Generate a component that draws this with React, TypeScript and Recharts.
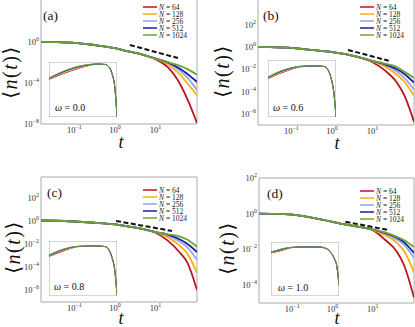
import { LineChart, Line, XAxis, YAxis, ReferenceArea } from 'recharts'

const SERIF = '"Liberation Serif", "DejaVu Serif", serif'
const FRAME = '#aaaaaa'

const sizes = [64, 128, 256, 512, 1024]
const colors = ['#bb1420', '#ffb000', '#8ea7ef', '#1d1da3', '#6ca535']

// main plots: <n(t)> vs t
const tValues = [0.015, 0.03, 0.1, 0.3, 1, 2, 5, 10, 20, 40, 60, 105]
const xDomain = [0.015, 105]
const xTicks = [0.1, 1, 10]

// order: N = 64, 128, 256, 512, 1024
const curvesA = [
  [1.05, 1.0, 0.85, 0.52, 0.25, 0.13, 0.056, 0.021, 3.5e-3, 8e-5, 3e-6, 1.26e-8],
  [1.05, 1.0, 0.85, 0.52, 0.25, 0.13, 0.056, 0.0235, 7e-3, 6.8e-4, 1e-4, 6.3e-6],
  [1.05, 1.0, 0.85, 0.52, 0.25, 0.13, 0.056, 0.024, 9.5e-3, 1.6e-3, 3.5e-4, 2e-5],
  [1.05, 1.0, 0.85, 0.52, 0.25, 0.13, 0.056, 0.024, 0.0105, 2.5e-3, 8e-4, 1.26e-4],
  [1.05, 1.0, 0.85, 0.52, 0.25, 0.13, 0.056, 0.024, 0.011, 4.7e-3, 2.4e-3, 6.3e-4],
]
const curvesB = [
  [1.0, 0.98, 0.83, 0.54, 0.35, 0.24, 0.11, 0.042, 7.9e-3, 6.3e-4, 5e-5, 2e-7],
  [1.0, 0.98, 0.83, 0.54, 0.35, 0.24, 0.11, 0.05, 0.018, 3.2e-3, 8e-4, 4.5e-5],
  [1.0, 0.98, 0.83, 0.54, 0.35, 0.24, 0.11, 0.055, 0.025, 6.3e-3, 1.8e-3, 1.5e-4],
  [1.0, 0.98, 0.83, 0.54, 0.35, 0.24, 0.11, 0.056, 0.028, 0.01, 4e-3, 6.3e-4],
  [1.0, 0.98, 0.83, 0.54, 0.35, 0.24, 0.11, 0.056, 0.032, 0.016, 6.3e-3, 1.7e-3],
]
const curvesC = [
  [1.1, 1.05, 0.9, 0.7, 0.5, 0.35, 0.2, 0.095, 0.02, 1.8e-3, 2.8e-4, 1.1e-6],
  [1.1, 1.05, 0.9, 0.7, 0.5, 0.35, 0.2, 0.107, 0.04, 7e-3, 1.6e-3, 3.2e-5],
  [1.1, 1.05, 0.9, 0.7, 0.5, 0.35, 0.2, 0.11, 0.056, 0.016, 5.6e-3, 4.4e-4],
  [1.1, 1.05, 0.9, 0.7, 0.5, 0.35, 0.2, 0.11, 0.066, 0.025, 0.011, 2.1e-3],
  [1.1, 1.05, 0.9, 0.7, 0.5, 0.35, 0.2, 0.11, 0.071, 0.045, 0.025, 5.8e-3],
]
const curvesD = [
  [1.0, 0.98, 0.9, 0.6, 0.35, 0.25, 0.18, 0.12, 0.035, 7.2e-3, 1.26e-3, 2e-5],
  [1.0, 0.98, 0.9, 0.6, 0.35, 0.25, 0.18, 0.125, 0.063, 0.023, 7.9e-3, 5.4e-4],
  [1.0, 0.98, 0.9, 0.6, 0.35, 0.25, 0.18, 0.13, 0.079, 0.035, 0.018, 3.3e-3],
  [1.0, 0.98, 0.9, 0.6, 0.35, 0.25, 0.18, 0.13, 0.085, 0.045, 0.025, 6.3e-3],
  [1.0, 0.98, 0.9, 0.6, 0.35, 0.25, 0.18, 0.13, 0.089, 0.05, 0.033, 0.0138],
]

// dashed guide lines (two end points each)
const guideTA = [2.34, 35.5]
const guideNA = [0.51, 0.0275]
const guideTB = [2.48, 25]
const guideNB = [0.54, 0.058]
const guideTC = [1.06, 25.4]
const guideNC = [1.0, 0.138]
const guideTD = [2.09, 22.6]
const guideND = [0.355, 0.126]

// insets
const uValues = [0.001, 0.00316, 0.01, 0.0316, 0.1, 0.25, 0.63, 1.0, 1.41, 2.0, 2.51]
const insetX = [0.001, 2.51]
const insetY = [1e-6, 1]

const insetA = [
  [0.0126, 0.035, 0.091, 0.21, 0.41, 0.59, 0.54, 0.28, 0.05, 1.2e-3, 1.5e-6],
  [0.0138, 0.04, 0.107, 0.24, 0.44, 0.59, 0.54, 0.28, 0.052, 1.4e-3, 1.2e-6],
  [0.015, 0.047, 0.126, 0.275, 0.47, 0.59, 0.54, 0.28, 0.054, 1.1e-3, 1e-6],
  [0.0166, 0.054, 0.15, 0.32, 0.5, 0.6, 0.54, 0.28, 0.058, 1e-3, 1e-6],
  [0.018, 0.063, 0.17, 0.36, 0.54, 0.6, 0.54, 0.28, 0.05, 8.9e-4, 1e-6],
]
const insetB = [
  [0.011, 0.032, 0.079, 0.17, 0.225, 0.234, 0.21, 0.089, 0.0126, 2.8e-4, 1.6e-6],
  [0.012, 0.037, 0.089, 0.18, 0.228, 0.234, 0.21, 0.089, 0.013, 3.2e-4, 1.3e-6],
  [0.0132, 0.042, 0.1, 0.19, 0.23, 0.234, 0.21, 0.089, 0.014, 2.6e-4, 1e-6],
  [0.0145, 0.048, 0.112, 0.2, 0.232, 0.234, 0.21, 0.089, 0.015, 2.4e-4, 1e-6],
  [0.016, 0.055, 0.126, 0.21, 0.234, 0.234, 0.21, 0.089, 0.0126, 2e-4, 1e-6],
]
const insetC = [
  [0.021, 0.052, 0.135, 0.25, 0.28, 0.28, 0.25, 0.105, 0.014, 4.5e-4, 1.8e-6],
  [0.023, 0.06, 0.15, 0.255, 0.28, 0.28, 0.25, 0.105, 0.015, 5e-4, 1.5e-6],
  [0.025, 0.07, 0.165, 0.26, 0.28, 0.28, 0.25, 0.105, 0.016, 4e-4, 1.26e-6],
  [0.027, 0.08, 0.18, 0.265, 0.28, 0.28, 0.25, 0.105, 0.017, 3.8e-4, 1.26e-6],
  [0.03, 0.091, 0.195, 0.27, 0.28, 0.28, 0.25, 0.105, 0.014, 3.2e-4, 1.26e-6],
]
const insetD = [
  [0.062, 0.105, 0.23, 0.275, 0.278, 0.278, 0.166, 0.06, 0.0166, 1.6e-3, 1.8e-5],
  [0.066, 0.12, 0.235, 0.275, 0.278, 0.278, 0.166, 0.061, 0.017, 1.8e-3, 2e-5],
  [0.07, 0.135, 0.24, 0.275, 0.278, 0.278, 0.168, 0.062, 0.017, 1.5e-3, 1.6e-5],
  [0.074, 0.15, 0.25, 0.278, 0.278, 0.278, 0.17, 0.063, 0.018, 1.4e-3, 1.6e-5],
  [0.078, 0.166, 0.257, 0.278, 0.278, 0.278, 0.166, 0.06, 0.0166, 1.26e-3, 1.6e-5],
]

const panels = [
  {
    id: 'a', omega: '0.0', left: 0, top: -1, mt: 0, width: 200, height: 160, plotHeight: 125, yAxisWidth: 41, right: 3,
    yDomain: [1e-8, 1.6e4], yTicks: [1e-8, 1e-4, 1], curves: curvesA, guideT: guideTA, guideN: guideNA,
    inset: { left: 49, top: 62, width: 68, height: 55, curves: insetA },
    label: [43, 20], xLabel: [121, 148], yLabel: [10, 72], legend: [143, 7], omegaPos: [55, 111],
  },
  {
    id: 'b', omega: '0.6', left: 215, top: -1, mt: 0, width: 200, height: 160, plotHeight: 126, yAxisWidth: 43, right: 1,
    yDomain: [1e-7, 2e4], yTicks: [1e-6, 1e-4, 1e-2, 1, 1e2], curves: curvesB, guideT: guideTB, guideN: guideNB,
    inset: { left: 268, top: 60, width: 68, height: 57, curves: insetB },
    label: [263, 20], xLabel: [337, 149], yLabel: [222, 71], legend: [360, 7], omegaPos: [273, 111],
  },
  {
    id: 'c', omega: '0.8', left: 0, top: 169, mt: 8, width: 200, height: 158, plotHeight: 125, yAxisWidth: 41, right: 3,
    yDomain: [1e-7, 6.3e3], yTicks: [1e-6, 1e-4, 1e-2, 1, 1e2], curves: curvesC, guideT: guideTC, guideN: guideNC,
    inset: { left: 49, top: 241, width: 68, height: 55, curves: insetC },
    label: [47, 197], xLabel: [121, 324], yLabel: [13, 247], legend: [143, 190], omegaPos: [54, 290],
  },
  {
    id: 'd', omega: '1.0', left: 215, top: 170, mt: 8, width: 200, height: 157, plotHeight: 125, yAxisWidth: 44, right: 1,
    yDomain: [1e-5, 1e2], yTicks: [1e-4, 1e-2, 1, 1e2], curves: curvesD, guideT: guideTD, guideN: guideND,
    inset: { left: 271, top: 242, width: 68, height: 54, curves: insetD },
    label: [267, 198], xLabel: [337, 324], yLabel: [227, 248], legend: [360, 191], omegaPos: [278, 291],
  },
]

function PowTick(props: any) {
  const { x, y, payload, axis } = props
  const e = Math.round(Math.log10(payload.value))
  const exp = e < 0 ? '\u2212' + Math.abs(e) : String(e)
  const isX = axis === 'x'
  return (
    <text
      x={x}
      y={isX ? y + 8 : y + 3}
      textAnchor={isX ? 'middle' : 'end'}
      fontSize={8.5}
      style={{ fontFamily: SERIF }}
      fill="#333"
    >
      10
      <tspan dy={-4} fontSize={6}>
        {exp}
      </tspan>
    </text>
  )
}

function MainPanel({ cfg }: { cfg: any }) {
  const rows = tValues.map((t, i) => {
    const r: any = { t }
    sizes.forEach((n, k) => (r['n' + n] = cfg.curves[k][i]))
    return r
  })
  const guide = cfg.guideT.map((t: number, i: number) => ({ t, g: cfg.guideN[i] }))
  return (
    <div style={{ position: 'absolute', left: cfg.left, top: cfg.top }}>
      <LineChart
        width={cfg.width}
        height={cfg.height}
        data={rows}
        margin={{ top: cfg.mt, right: cfg.right, bottom: 0, left: 0 }}
      >
        <XAxis
          dataKey="t"
          type="number"
          scale="log"
          domain={xDomain}
          allowDataOverflow
          ticks={xTicks}
          interval={0}
          tick={<PowTick axis="x" />}
          tickLine={false}
          axisLine={false}
          tickSize={0}
          tickMargin={1}
          height={cfg.height - cfg.plotHeight - cfg.mt}
        />
        <YAxis
          type="number"
          scale="log"
          domain={cfg.yDomain}
          allowDataOverflow
          ticks={cfg.yTicks}
          interval={0}
          tick={<PowTick axis="y" />}
          tickLine={false}
          axisLine={false}
          tickSize={0}
          tickMargin={2}
          width={cfg.yAxisWidth}
        />
        <ReferenceArea
          x1={xDomain[0]}
          x2={xDomain[1]}
          y1={cfg.yDomain[0]}
          y2={cfg.yDomain[1]}
          fill="none"
          stroke={FRAME}
          strokeWidth={1}
        />
        {sizes.map((n, k) => (
          <Line
            key={n}
            dataKey={'n' + n}
            stroke={colors[k]}
            strokeWidth={1.8}
            dot={false}
            type="monotone"
            isAnimationActive={false}
          />
        ))}
        <Line
          data={guide}
          dataKey="g"
          stroke="#111"
          strokeWidth={2}
          strokeDasharray="5 2.5"
          dot={false}
          type="linear"
          isAnimationActive={false}
        />
      </LineChart>
    </div>
  )
}

function InsetPanel({ inset }: { inset: any }) {
  const rows = uValues.map((u, i) => {
    const r: any = { u }
    sizes.forEach((n, k) => (r['n' + n] = inset.curves[k][i]))
    return r
  })
  return (
    <div style={{ position: 'absolute', left: inset.left, top: inset.top, background: '#fff' }}>
      <LineChart width={inset.width} height={inset.height} data={rows} margin={{ top: 0, right: 0, bottom: 0, left: 0 }}>
        <XAxis dataKey="u" type="number" scale="log" domain={insetX} allowDataOverflow hide />
        <YAxis type="number" scale="log" domain={insetY} allowDataOverflow hide />
        <ReferenceArea
          x1={insetX[0]}
          x2={insetX[1]}
          y1={insetY[0]}
          y2={insetY[1]}
          fill="none"
          stroke={FRAME}
          strokeWidth={1}
        />
        {sizes.map((n, k) => (
          <Line
            key={n}
            dataKey={'n' + n}
            stroke={colors[k]}
            strokeWidth={1}
            dot={false}
            type="monotone"
            isAnimationActive={false}
          />
        ))}
      </LineChart>
    </div>
  )
}

function Overlay() {
  return (
    <svg
      width={415}
      height={327}
      style={{ position: 'absolute', left: 0, top: 0, pointerEvents: 'none', fontFamily: SERIF }}
    >
      {panels.map((p) => (
        <g key={p.id}>
          <text x={p.label[0]} y={p.label[1]} fontSize={13.5} fill="#111">
            ({p.id})
          </text>
          <text x={p.xLabel[0]} y={p.xLabel[1]} fontSize={18} fontStyle="italic" textAnchor="middle" fill="#111">
            t
          </text>
          <text
            transform={`translate(${p.yLabel[0]},${p.yLabel[1]}) rotate(-90)`}
            textAnchor="middle"
            dominantBaseline="central"
            fontSize={20}
            letterSpacing={1.5}
            fill="#111"
          >
            ⟨<tspan fontStyle="italic">n</tspan>(<tspan fontStyle="italic">t</tspan>)⟩
          </text>
          <text x={p.omegaPos[0]} y={p.omegaPos[1]} fontSize={10} fill="#111">
            <tspan fontStyle="italic">ω</tspan> = {p.omega}
          </text>
          {sizes.map((n, k) => {
            const y = p.legend[1] + k * 7
            return (
              <g key={n}>
                <line x1={p.legend[0]} x2={p.legend[0] + 14} y1={y} y2={y} stroke={colors[k]} strokeWidth={1.5} />
                <text x={p.legend[0] + 16} y={y + 2.6} fontSize={7.5} fill="#222">
                  <tspan fontStyle="italic">N</tspan> = {n}
                </text>
              </g>
            )
          })}
        </g>
      ))}
    </svg>
  )
}

export default function App() {
  return (
    <div style={{ position: 'absolute', left: 0, top: 0, width: 415, height: 327, overflow: 'hidden', background: '#fff' }}>
      {panels.map((p) => (
        <MainPanel key={p.id} cfg={p} />
      ))}
      {panels.map((p) => (
        <InsetPanel key={p.id} inset={p.inset} />
      ))}
      <Overlay />
    </div>
  )
}
